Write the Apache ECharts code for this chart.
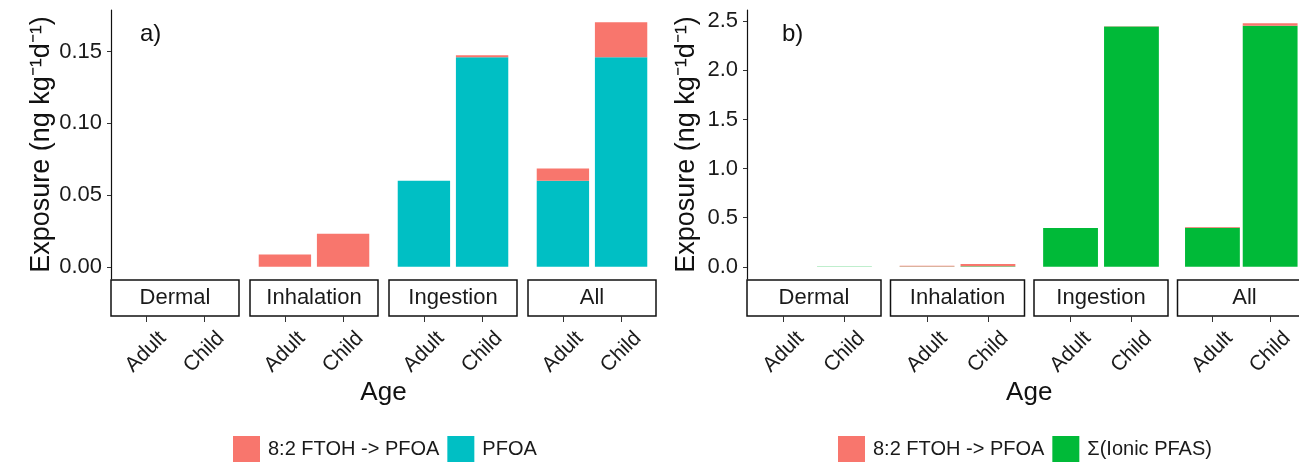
<!DOCTYPE html>
<html>
<head>
<meta charset="utf-8">
<script src="https://cdn.jsdelivr.net/npm/echarts@6/dist/echarts.min.js"></script>
<style>
	html, body { margin: 0; padding: 0; background: #fff; }
	#main { width: 1299px; height: 465px; }
</style>
</head>
<body>
<div id="main"></div>
<script>
// facet labels and x categories
var routes = ['Dermal', 'Inhalation', 'Ingestion', 'All'];
var ages = ['Adult', 'Child'];

// values per route: [Adult, Child]
var ftoh = [[0, 0], [0.0085, 0.023], [0, 0.0015], [0.0085, 0.0245]];
var pfoa = [[0, 0], [0, 0], [0.060, 0.146], [0.060, 0.146]];
var ionic = [[0, 0.002], [0.002, 0.005], [0.395, 2.447], [0.397, 2.454]];

// y axis ticks
var ticksA = [0, 0.05, 0.10, 0.15];
var ticksB = [0, 0.5, 1.0, 1.5, 2.0, 2.5];

var FONT = '"Liberation Sans", Arial, sans-serif';
var RED = '#F8766D', TEAL = '#00BFC4', GREEN = '#00BA38';

var panels = [
	{ left: 111, facetW: 128, gap: 11, min: -0.0085, max: 0.179, ticks: ticksA, dec: 2, nameGap: 56,
		tag: 'a)', tagX: 140, series: [{ name: 'PFOA', data: pfoa, color: TEAL }, { name: '8:2 FTOH -> PFOA', data: ftoh, color: RED }] },
	{ left: 747, facetW: 134, gap: 9.5, min: -0.1245, max: 2.6145, ticks: ticksB, dec: 1, nameGap: 47,
		tag: 'b)', tagX: 782, series: [{ name: 'Σ(Ionic PFAS)', data: ionic, color: GREEN }, { name: '8:2 FTOH -> PFOA', data: ftoh, color: RED }] }
];

var GRID_TOP = 10, GRID_H = 269, STRIP_H = 36;

var grids = [], xAxes = [], yAxes = [], series = [], graphics = [];

panels.forEach(function (p, pi) {
	// ggplot-like discrete expansion: 0.6 units each side of 2 categories
	var inset = p.facetW / 22;
	routes.forEach(function (route, f) {
		var gi = grids.length;
		var left = p.left + f * (p.facetW + p.gap);
		grids.push({ left: left + inset, top: GRID_TOP, width: p.facetW - 2 * inset, height: GRID_H });

		xAxes.push({
			gridIndex: gi, type: 'category', data: ages, position: 'bottom', offset: STRIP_H + 1,
			axisLine: { show: false, onZero: false },
			axisTick: { show: true, alignWithLabel: true, interval: 0, length: 6, lineStyle: { color: '#333', width: 1 } },
			axisLabel: {
				interval: 0, rotate: 45, margin: 36, align: 'center', verticalAlign: 'middle',
				fontSize: 21, color: '#1a1a1a', fontFamily: FONT
			},
			splitLine: { show: false }
		});

		var first = f === 0;
		yAxes.push({
			gridIndex: gi, type: 'value', min: p.min, max: p.max, show: first, offset: inset,
			name: first ? 'Exposure (ng kg\u207B\u00B9d\u207B\u00B9)' : '',
			nameLocation: 'middle', nameGap: p.nameGap,
			nameTextStyle: { fontSize: 27, color: '#111', fontFamily: FONT },
			axisLine: { show: true, onZero: false, lineStyle: { color: '#111', width: 1.2 } },
			axisTick: { show: true, customValues: p.ticks, length: 4, lineStyle: { color: '#333' } },
			axisLabel: {
				customValues: p.ticks, margin: 9, fontSize: 22, color: '#1a1a1a', fontFamily: FONT,
				formatter: function (v) { return v.toFixed(p.dec); }
			},
			splitLine: { show: false }
		});

		var bw = 0.9 * p.facetW / 2.2;
		p.series.forEach(function (s) {
			series.push({
				name: s.name, type: 'bar', xAxisIndex: gi, yAxisIndex: gi, stack: 'g' + gi,
				barWidth: bw, itemStyle: { color: s.color }, silent: true,
				data: s.data[f]
			});
		});

		// facet strip
		graphics.push({
			type: 'rect', z: -1, shape: { x: left, y: GRID_TOP + GRID_H + 1, width: p.facetW, height: STRIP_H },
			style: { fill: 'none', stroke: '#111', lineWidth: 1.5 }
		});
		graphics.push({
			type: 'text', x: left + p.facetW / 2, y: GRID_TOP + GRID_H + 1 + STRIP_H / 2,
			style: { text: route, fontSize: 22, fill: '#1a1a1a', fontFamily: FONT, textAlign: 'center', textVerticalAlign: 'middle' }
		});
	});

	var mid = p.left + (4 * p.facetW + 3 * p.gap) / 2;
	graphics.push({
		type: 'text', x: mid, y: 393,
		style: { text: 'Age', fontSize: 26, fill: '#111', fontFamily: FONT, textAlign: 'center', textVerticalAlign: 'middle' }
	});
	graphics.push({
		type: 'text', x: p.tagX, y: 34,
		style: { text: p.tag, fontSize: 24, fill: '#111', fontFamily: FONT, textAlign: 'left', textVerticalAlign: 'middle' }
	});
});

var legendBase = {
	top: 436, padding: 0, itemWidth: 27, itemHeight: 26, itemGap: 8, icon: 'rect', selectedMode: false,
	textStyle: { fontSize: 20, color: '#1a1a1a', fontFamily: FONT, padding: [0, 0, 0, 3] }
};

var option = {
	animation: false,
	backgroundColor: '#fff',
	grid: grids,
	xAxis: xAxes,
	yAxis: yAxes,
	legend: [
		Object.assign({}, legendBase, { left: 233, data: ['8:2 FTOH -> PFOA', 'PFOA'] }),
		Object.assign({}, legendBase, { left: 838, data: ['8:2 FTOH -> PFOA', 'Σ(Ionic PFAS)'] })
	],
	graphic: graphics,
	series: series
};

var myChart = echarts.init(document.getElementById('main'));
myChart.setOption(option);
</script>
</body>
</html>
